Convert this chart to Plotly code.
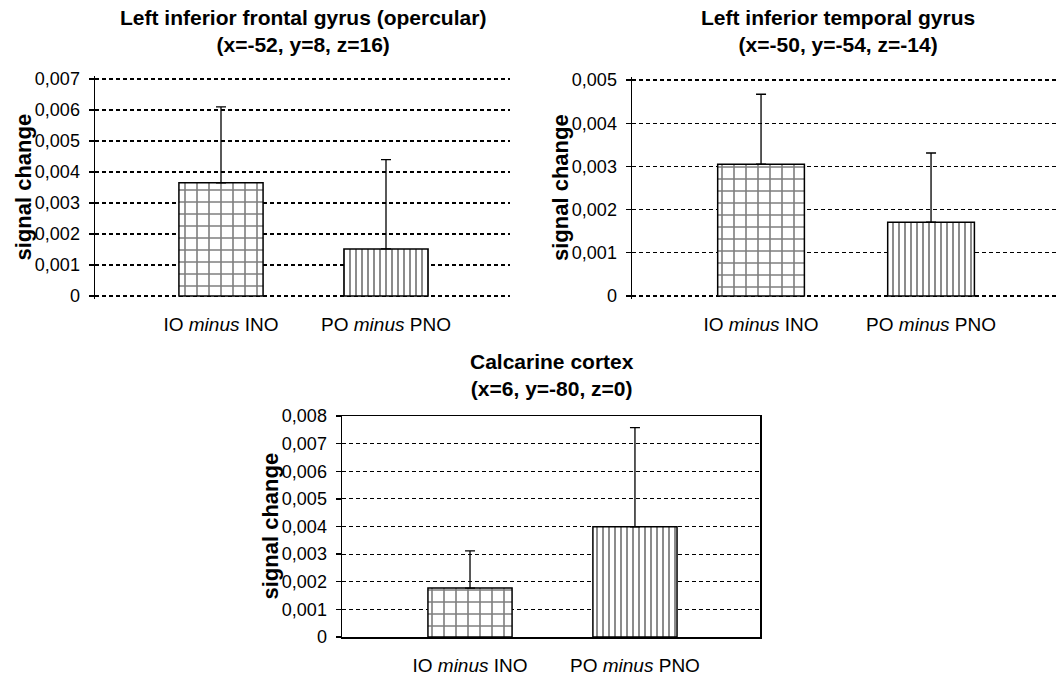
import plotly.graph_objects as go

W, H = 1056, 678

categories = ["IO <i>minus</i> INO", "PO <i>minus</i> PNO"]

titles = [
    "<b>Left inferior frontal gyrus (opercular)<br>(x=-52, y=8, z=16)</b>",
    "<b>Left inferior temporal gyrus<br>(x=-50, y=-54, z=-14)</b>",
    "<b>Calcarine cortex<br>(x=6, y=-80, z=0)</b>",
]

# bar heights (signal change) and top of the upper error whisker
ifg_values = [0.00365, 0.00152]
ifg_err_top = [0.0061, 0.0044]
itg_values = [0.00305, 0.00171]
itg_err_top = [0.00467, 0.00331]
calc_values = [0.00177, 0.00399]
calc_err_top = [0.00312, 0.00758]

ifg_ticks = [0, 0.001, 0.002, 0.003, 0.004, 0.005, 0.006, 0.007]
ifg_ticklabels = ["0", "0,001", "0,002", "0,003", "0,004", "0,005", "0,006", "0,007"]
itg_ticks = [0, 0.001, 0.002, 0.003, 0.004, 0.005]
itg_ticklabels = ["0", "0,001", "0,002", "0,003", "0,004", "0,005"]
calc_ticks = [0, 0.001, 0.002, 0.003, 0.004, 0.005, 0.006, 0.007, 0.008]
calc_ticklabels = ["0", "0,001", "0,002", "0,003", "0,004", "0,005", "0,006", "0,007", "0,008"]

panels = [
    dict(vals=ifg_values, tops=ifg_err_top, ticks=ifg_ticks, labels=ifg_ticklabels,
         px=(95, 510), py=(79, 296), xr=(-0.7636, 1.7515), frame=False, tcx=303, tcy=31),
    dict(vals=itg_values, tops=itg_err_top, ticks=itg_ticks, labels=itg_ticklabels,
         px=(632, 1056), py=(80, 296), xr=(-0.759, 1.735), frame=False, tcx=838, tcy=31),
    dict(vals=calc_values, tops=calc_err_top, ticks=calc_ticks, labels=calc_ticklabels,
         px=(342, 760), py=(416, 637), xr=(-0.776, 1.758), frame=True, tcx=552, tcy=375),
]

FONT = "Liberation Sans, Arial, Helvetica, sans-serif"

fig = go.Figure()
annotations = []

for i, p in enumerate(panels):
    n = "" if i == 0 else str(i + 1)
    err_plus = [t - v for t, v in zip(p["tops"], p["vals"])]
    fig.add_trace(go.Bar(
        x=categories, y=p["vals"],
        xaxis="x" + n, yaxis="y" + n,
        width=0.51,
        marker=dict(
            color="white",
            line=dict(color="black", width=1.5),
            pattern=dict(shape=["+", "|"], size=[12, 6], solidity=[0.25, 0.3],
                         fgcolor="black", bgcolor="white", fillmode="overlay"),
        ),
        error_y=dict(type="data", symmetric=False, array=err_plus,
                     arrayminus=[0, 0], color="black", thickness=1.3, width=5),
        showlegend=False,
        hoverinfo="skip",
    ))
    ymax = p["ticks"][-1]
    top_px, bot_px = p["py"]
    if p["frame"]:
        yr = [0, ymax]
    else:
        padpx = 3
        upp = ymax / (bot_px - top_px)
        yr = [-padpx * upp, ymax + padpx * upp]
        top_px -= padpx
        bot_px += padpx
    xd = [p["px"][0] / W, min(p["px"][1] / W, 1)]
    yd = [1 - bot_px / H, 1 - top_px / H]
    fig.update_layout(**{
        "xaxis" + n: dict(
            domain=xd, anchor="y" + n, range=list(p["xr"]),
            showgrid=False, zeroline=False, ticks="",
            showline=p["frame"], mirror=p["frame"], linecolor="black", linewidth=1.5,
            tickfont=dict(family=FONT, size=19, color="black"),
            ticklabelstandoff=11 if p["frame"] else 12,
            fixedrange=True, automargin=False,
        ),
        "yaxis" + n: dict(
            domain=yd, anchor="x" + n, range=yr,
            tickvals=p["ticks"], ticktext=p["labels"],
            showline=True, mirror=p["frame"], linecolor="black", linewidth=1.5,
            ticks="outside", ticklen=5, tickwidth=1.3, tickcolor="black",
            showgrid=True, gridcolor="black", gridwidth=1.2, griddash="4px,3px",
            zeroline=False,
            tickfont=dict(family=FONT, size=18, color="black"),
            ticklabelstandoff=5, fixedrange=True, automargin=False,
        ),
    })
    annotations.append(dict(
        text=titles[i], x=p["tcx"] / W, y=1 - p["tcy"] / H,
        xref="paper", yref="paper", xanchor="center", yanchor="middle",
        showarrow=False, font=dict(family=FONT, size=21, color="black"),
    ))
    annotations.append(dict(
        text="<b>signal change</b>", textangle=-90,
        x=(p["px"][0] - 72) / W, y=1 - ((p["py"][0] + p["py"][1]) / 2) / H,
        xref="paper", yref="paper", xanchor="center", yanchor="middle",
        showarrow=False, font=dict(family=FONT, size=22, color="black"),
    ))

fig.update_layout(
    width=W, height=H,
    margin=dict(l=0, r=0, t=0, b=0, autoexpand=False),
    paper_bgcolor="white", plot_bgcolor="white",
    annotations=annotations,
    bargap=0.5,
    hovermode=False,
)

fig.write_html(
    "out.html",
    config={"displayModeBar": False, "staticPlot": True},
    post_script="document.body.style.margin='0';document.body.style.overflow='hidden';",
)
